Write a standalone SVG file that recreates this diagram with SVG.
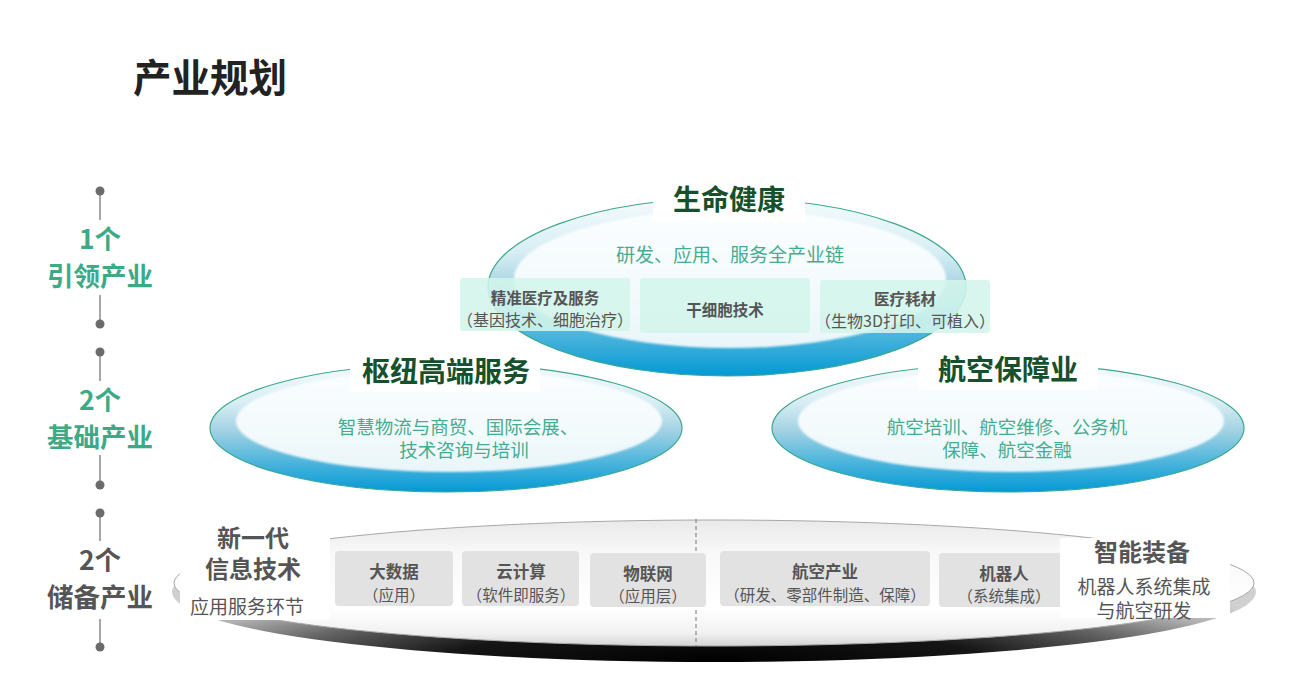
<svg xmlns="http://www.w3.org/2000/svg" width="1294" height="696" viewBox="0 0 1294 696">
<defs>
<linearGradient id="blueOuter" x1="0" y1="0" x2="0" y2="1">
<stop offset="0" stop-color="#f4fbfd"/>
<stop offset="0.3" stop-color="#d8eef4"/>
<stop offset="0.52" stop-color="#a2d2e3"/>
<stop offset="0.78" stop-color="#48b3dc"/>
<stop offset="1" stop-color="#0399d5"/>
</linearGradient>
<linearGradient id="blueInner" x1="0" y1="0" x2="0" y2="1">
<stop offset="0" stop-color="#fbfeff"/>
<stop offset="0.6" stop-color="#f3fafc"/>
<stop offset="1" stop-color="#e9f6f9"/>
</linearGradient>
<radialGradient id="rimGrad" cx="0.5" cy="1" r="0.62">
<stop offset="0" stop-color="#000000"/>
<stop offset="0.4" stop-color="#151515"/>
<stop offset="0.65" stop-color="#606060"/>
<stop offset="0.85" stop-color="#b0b0b0"/>
<stop offset="1" stop-color="#d0d0d0"/>
</radialGradient>
<linearGradient id="topSurf" x1="0" y1="0" x2="0" y2="1">
<stop offset="0" stop-color="#e9e9e9"/>
<stop offset="0.25" stop-color="#f8f8f8"/>
<stop offset="0.7" stop-color="#ffffff"/>
<stop offset="0.9" stop-color="#f1f1f1"/>
<stop offset="1" stop-color="#d4d4d4"/>
</linearGradient>
<filter id="soft" x="-5%" y="-10%" width="110%" height="120%">
<feGaussianBlur stdDeviation="1"/>
</filter>
</defs>
<style>
.outer{fill:url(#blueOuter);stroke:#3ea88b;stroke-width:1.2}
.inner{fill:url(#blueInner);filter:url(#soft)}
.cap{fill:#ffffff}
.ttl{font-family:"Noto Sans CJK SC","Liberation Sans",sans-serif;font-weight:bold;fill:#16502c;text-anchor:middle}
.sub{font-family:"Noto Sans CJK SC","Liberation Sans",sans-serif;fill:#45ad8f;text-anchor:middle}
.mint{fill:#d3f5ea;opacity:0.88}
.gbox{fill:#e2e2e2}
.bt{font-family:"Noto Sans CJK SC","Liberation Sans",sans-serif;font-weight:bold;fill:#555555;text-anchor:middle}
.rt{font-family:"Noto Sans CJK SC","Liberation Sans",sans-serif;fill:#555555;text-anchor:middle}
.lg{font-family:"Noto Sans CJK SC","Liberation Sans",sans-serif;font-weight:bold;text-anchor:middle;font-size:26.5px}
.tl{stroke:#8a8a8a;stroke-width:1.5}
.dot{fill:#6b6b6b}
</style>
<rect width="1294" height="696" fill="#ffffff"/>

<g id="title">
<text x="133" y="92" font-family="Noto Sans CJK SC,Liberation Sans,sans-serif" font-weight="bold" font-size="38.5" fill="#222222">产业规划</text>
</g>

<g id="connectors">
<line class="tl" x1="100" y1="191" x2="100" y2="220"/>
<line class="tl" x1="100" y1="295" x2="100" y2="324"/>
<line class="tl" x1="100" y1="352" x2="100" y2="381"/>
<line class="tl" x1="100" y1="455" x2="100" y2="485"/>
<line class="tl" x1="100" y1="513" x2="100" y2="541"/>
<line class="tl" x1="100" y1="619" x2="100" y2="647"/>
<circle class="dot" cx="100" cy="191" r="4.5"/>
<circle class="dot" cx="100" cy="324" r="4.5"/>
<circle class="dot" cx="100" cy="352" r="4.5"/>
<circle class="dot" cx="100" cy="485" r="4.5"/>
<circle class="dot" cx="100" cy="513" r="4.5"/>
<circle class="dot" cx="100" cy="647" r="4.5"/>
</g>

<g id="label-lead">
<text class="lg" x="100" y="249" fill="#3daa87">1个</text>
<text class="lg" x="100" y="286" fill="#3daa87">引领产业</text>
</g>
<g id="label-base">
<text class="lg" x="100" y="410" fill="#3daa87">2个</text>
<text class="lg" x="100" y="447" fill="#3daa87">基础产业</text>
</g>
<g id="label-reserve">
<text class="lg" x="100" y="570" fill="#555555">2个</text>
<text class="lg" x="100" y="607" fill="#555555">储备产业</text>
</g>

<g id="hub-service">
<ellipse class="outer" cx="446" cy="428" rx="236" ry="64"/>
<ellipse class="inner" cx="449" cy="421" rx="213" ry="51"/>
<rect class="cap" x="350" y="352" width="190" height="40"/>
<text class="ttl" x="446" y="382" font-size="28">枢纽高端服务</text>
<text class="sub" x="458" y="434" font-size="18.5">智慧物流与商贸、国际会展、</text>
<text class="sub" x="464" y="457" font-size="18.5">技术咨询与培训</text>
</g>

<g id="aviation-support">
<ellipse class="outer" cx="1008" cy="428" rx="236" ry="64"/>
<ellipse class="inner" cx="1011" cy="421" rx="213" ry="51"/>
<rect class="cap" x="918" y="350" width="180" height="40"/>
<text class="ttl" x="1008" y="380" font-size="28">航空保障业</text>
<text class="sub" x="1007" y="434" font-size="18.5">航空培训、航空维修、公务机</text>
<text class="sub" x="1007" y="457" font-size="18.5">保障、航空金融</text>
</g>

<g id="life-health">
<ellipse class="outer" cx="727" cy="287" rx="239" ry="89"/>
<ellipse class="inner" cx="730" cy="279" rx="216" ry="69"/>
<rect class="cap" x="653" y="180" width="152" height="42"/>
<text class="ttl" x="729" y="210" font-size="28">生命健康</text>
<text class="sub" x="730" y="262" font-size="19">研发、应用、服务全产业链</text>
</g>

<g id="precision-medicine">
<rect class="mint" x="460" y="278" width="170" height="53" rx="3"/>
<text class="bt" x="545" y="304" font-size="15.5">精准医疗及服务</text>
<text class="rt" x="545" y="326" font-size="16">（基因技术、细胞治疗）</text>
</g>
<g id="stem-cell">
<rect class="mint" x="640" y="278" width="170" height="55" rx="3"/>
<text class="bt" x="725" y="316" font-size="15.5">干细胞技术</text>
</g>
<g id="medical-consumables">
<rect class="mint" x="820" y="280" width="170" height="53" rx="3"/>
<text class="bt" x="905" y="305" font-size="15.5">医疗耗材</text>
<text class="rt" x="905" y="327" font-size="16">（生物3D打印、可植入）</text>
</g>

<g id="reserve-disc">
<ellipse cx="714" cy="592" rx="542" ry="70" fill="url(#rimGrad)"/>
<ellipse cx="714" cy="583" rx="540" ry="63" fill="url(#topSurf)" stroke="#a8a8a8" stroke-width="1"/>
<line x1="696" y1="519" x2="696" y2="646" stroke="#777777" stroke-width="1" stroke-dasharray="4 3"/>
</g>

<g id="next-gen-it">
<rect class="cap" x="180" y="520" width="150" height="100"/>
<text class="bt" x="253" y="547" font-size="24">新一代</text>
<text class="bt" x="253" y="578" font-size="24">信息技术</text>
<text class="rt" x="247" y="614" font-size="19" fill="#666666">应用服务环节</text>
</g>

<g id="big-data">
<rect class="gbox" x="335" y="551" width="118" height="55" rx="4"/>
<text class="bt" x="394" y="578" font-size="16.5">大数据</text>
<text class="rt" x="394" y="601" font-size="15.5">（应用）</text>
</g>
<g id="cloud">
<rect class="gbox" x="462" y="551" width="117" height="55" rx="4"/>
<text class="bt" x="521" y="578" font-size="16.5">云计算</text>
<text class="rt" x="521" y="601" font-size="15.5">（软件即服务）</text>
</g>
<g id="iot">
<rect class="gbox" x="590" y="553" width="116" height="54" rx="4"/>
<text class="bt" x="648" y="580" font-size="16.5">物联网</text>
<text class="rt" x="648" y="602" font-size="15.5">（应用层）</text>
</g>
<g id="aviation-industry">
<rect class="gbox" x="720" y="551" width="210" height="55" rx="4"/>
<text class="bt" x="825" y="578" font-size="16.5">航空产业</text>
<text class="rt" x="825" y="601" font-size="15.5">（研发、零部件制造、保障）</text>
</g>
<g id="robot">
<rect class="gbox" x="939" y="553" width="125" height="54" rx="4"/>
<text class="bt" x="1004" y="580" font-size="16.5">机器人</text>
<text class="rt" x="1004" y="602" font-size="15.5">（系统集成）</text>
</g>

<g id="smart-equipment">
<rect class="cap" x="1060" y="538" width="170" height="80"/>
<text class="bt" x="1142" y="561" font-size="24">智能装备</text>
<text class="rt" x="1144" y="594" font-size="19" fill="#666666">机器人系统集成</text>
<text class="rt" x="1144" y="618" font-size="19" fill="#666666">与航空研发</text>
</g>
</svg>
